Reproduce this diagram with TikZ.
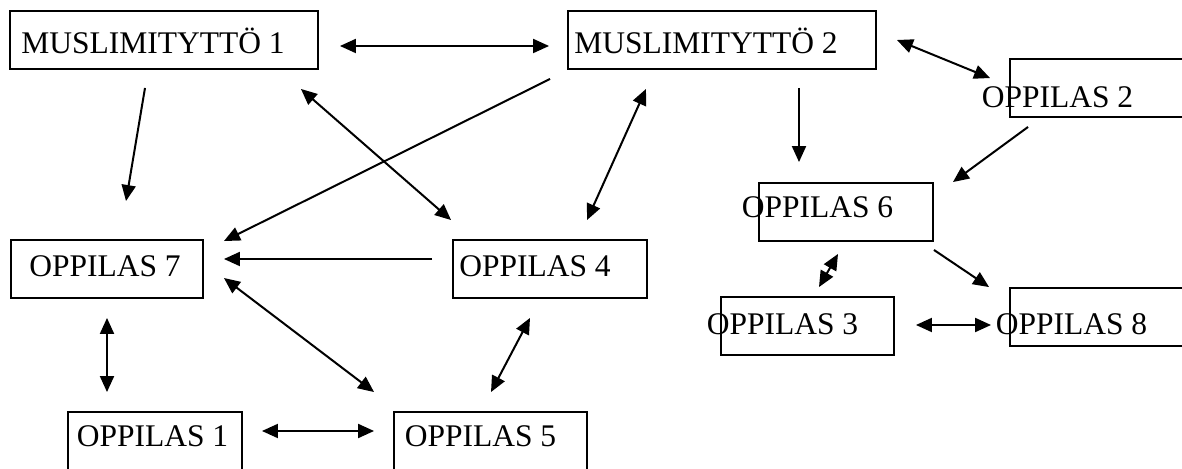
\documentclass[tikz,border=0pt]{standalone}
\usepackage{fontspec}
\setmainfont{Liberation Serif}
\usetikzlibrary{arrows.meta}
\newcommand{\offtext}[3]{\raisebox{#2}[\height][\depth]{\hspace*{#1}#3\hspace*{-#1}}}

\begin{document}
\begin{tikzpicture}[x=1pt, y=1pt, every node/.style={font=\fontsize{31.5pt}{36pt}\selectfont}, >={Triangle[length=16pt,width=14pt]}, box/.style={draw, line width=1.9pt, inner sep=0pt, minimum height=58pt}, link/.style={line width=2pt}]
	\useasboundingbox (0,0) rectangle (1182,468);
	% girls and pupils
	\node[box, minimum width=308pt] (M1) at (164,428) {\offtext{-11pt}{-1pt}{MUSLIMITYTTÖ 1}};
	\node[box, minimum width=308pt] (M2) at (722,428) {\offtext{-16pt}{-1pt}{MUSLIMITYTTÖ 2}};
	\node[box, minimum width=173pt] (O2) at (1096.5,380) {\offtext{-39pt}{-9pt}{OPPILAS 2}};
	\node[box, minimum width=174pt] (O6) at (846,256) {\offtext{-28.5pt}{4.5pt}{OPPILAS 6}};
	\node[box, minimum width=173pt] (O3) at (807.5,142) {\offtext{-25pt}{2pt}{OPPILAS 3}};
	\node[box, minimum width=173pt] (O8) at (1096.5,151) {\offtext{-25pt}{-7pt}{OPPILAS 8}};
	\node[box, minimum width=192pt] (O7) at (107,199) {\offtext{-2pt}{3pt}{OPPILAS 7}};
	\node[box, minimum width=194pt] (O4) at (550,199) {\offtext{-15pt}{3pt}{OPPILAS 4}};
	\node[box, minimum width=174pt] (O1) at (155,27) {\offtext{-2.5pt}{5pt}{OPPILAS 1}};
	\node[box, minimum width=193pt] (O5) at (490.5,27) {\offtext{-10pt}{5pt}{OPPILAS 5}};
	% links
	\draw[link, <->] ([xshift=21pt, yshift=-6pt]M1.east) -- ([xshift=-18pt, yshift=-6pt]M2.west);
	\draw[link, ->] ([xshift=-19pt, yshift=-18pt]M1.south) -- ([xshift=19pt, yshift=38pt]O7.north);
	\draw[link, ->] ([xshift=-17pt, yshift=-9pt]M2.south west) -- ([xshift=20pt, yshift=-2pt]O7.north east);
	\draw[link, <->] ([xshift=-18pt, yshift=-19pt]M1.south east) -- ([xshift=-1pt, yshift=19pt]O4.north west);
	\draw[link, <->] ([xshift=37pt, yshift=19pt]O4.north) -- ([xshift=-76pt, yshift=-19pt]M2.south);
	\draw[link, ->] ([xshift=-20pt, yshift=10pt]O4.west) -- ([xshift=20pt, yshift=10pt]O7.east);
	\draw[link, <->] ([xshift=20pt, yshift=-9pt]O7.east) -- ([xshift=-19pt, yshift=19pt]O5.north west);
	\draw[link, <->] ([xshift=-20pt, yshift=-19pt]O4.south) -- ([xshift=0.5pt, yshift=19pt]O5.north);
	\draw[link, <->] ([xshift=19pt, yshift=10pt]O1.east) -- ([xshift=-19pt, yshift=10pt]O5.west);
	\draw[link, <->] ([yshift=-19pt]O7.south) -- ([xshift=-48pt, yshift=19pt]O1.north);
	\draw[link, <->] ([xshift=20pt]M2.east) -- ([xshift=-19pt, yshift=-20pt]O2.north west);
	\draw[link, ->] ([xshift=77pt, yshift=-18pt]M2.south) -- ([xshift=-47pt, yshift=20pt]O6.north);
	\draw[link, ->] ([xshift=19pt, yshift=-9pt]O2.south west) -- ([xshift=19pt]O6.north east);
	\draw[link, <->] ([xshift=-8pt, yshift=-12pt]O6.south) -- ([xshift=11.5pt, yshift=9pt]O3.north);
	\draw[link, ->] ([yshift=-8pt]O6.south east) -- ([xshift=-20pt]O8.north west);
	\draw[link, <->] ([xshift=21pt, yshift=1pt]O3.east) -- ([xshift=-18pt, yshift=-8pt]O8.west);
\end{tikzpicture}
\end{document}
